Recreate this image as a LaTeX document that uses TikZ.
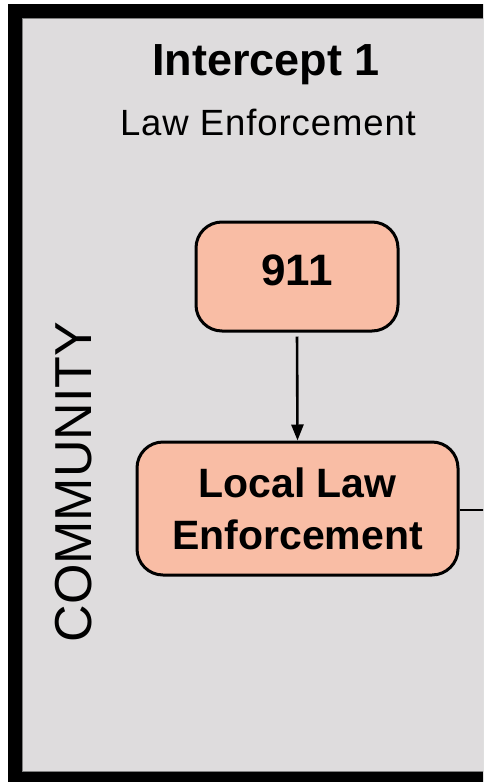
\documentclass[tikz,border=0pt]{standalone}
\usepackage{fontspec}
\setmainfont{Liberation Sans}
\newfontfamily\spacedfont[LetterSpace=2.5]{Liberation Sans}
\usetikzlibrary{arrows.meta}
\definecolor{panelgray}{HTML}{DEDCDD}
\definecolor{boxfill}{HTML}{F9BDA5}
\definecolor{edgegray}{HTML}{7F7F7F}
\tikzset{
  stagebox/.style={draw=black, line width=3pt, fill=boxfill, rounded corners=26pt, inner sep=0pt, align=center},
  flow/.style={line width=2.6pt, -{Triangle[length=16pt,width=12pt]}},
  plain/.style={line width=2.4pt}
}
\begin{document}
\begin{tikzpicture}[x=1pt,y=-1pt]
\useasboundingbox (0,0) rectangle (483,782);
\clip (0,0) rectangle (483,782);
% frame
\fill[black] (8,4) rectangle (500,790);
\filldraw[fill=panelgray, draw=edgegray, line width=1pt] (22,18) rectangle (500,771);
% titles
\node[anchor=base, inner sep=0pt, font=\fontsize{45}{54}\selectfont\bfseries] (title) at (266,75) {Intercept 1};
\node[anchor=base, inner sep=0pt, font=\fontsize{36.5}{44}\spacedfont] (subtitle) at (268,135) {Law Enforcement};
% side label
\node[rotate=90, inner sep=0pt, font=\fontsize{52}{62}\selectfont] (community) at (74,482) {COMMUNITY};
% boxes
\node[stagebox, minimum width=202pt, minimum height=109pt, text height=32pt, text depth=14pt, font=\fontsize{44}{53}\selectfont\bfseries] (n911) at (297,276.5) {911};
\node[stagebox, minimum width=321pt, minimum height=133pt, font=\fontsize{41}{53}\selectfont\bfseries] (lle) at (297.5,508.5) {Local Law\\[-1pt]Enforcement};
% connectors
\coordinate (exit) at (492,510);
\draw[flow, shorten <=4pt] (n911.south) -- (lle.north);
\draw[plain] (lle.east |- exit) -- (exit);
\end{tikzpicture}
\end{document}
